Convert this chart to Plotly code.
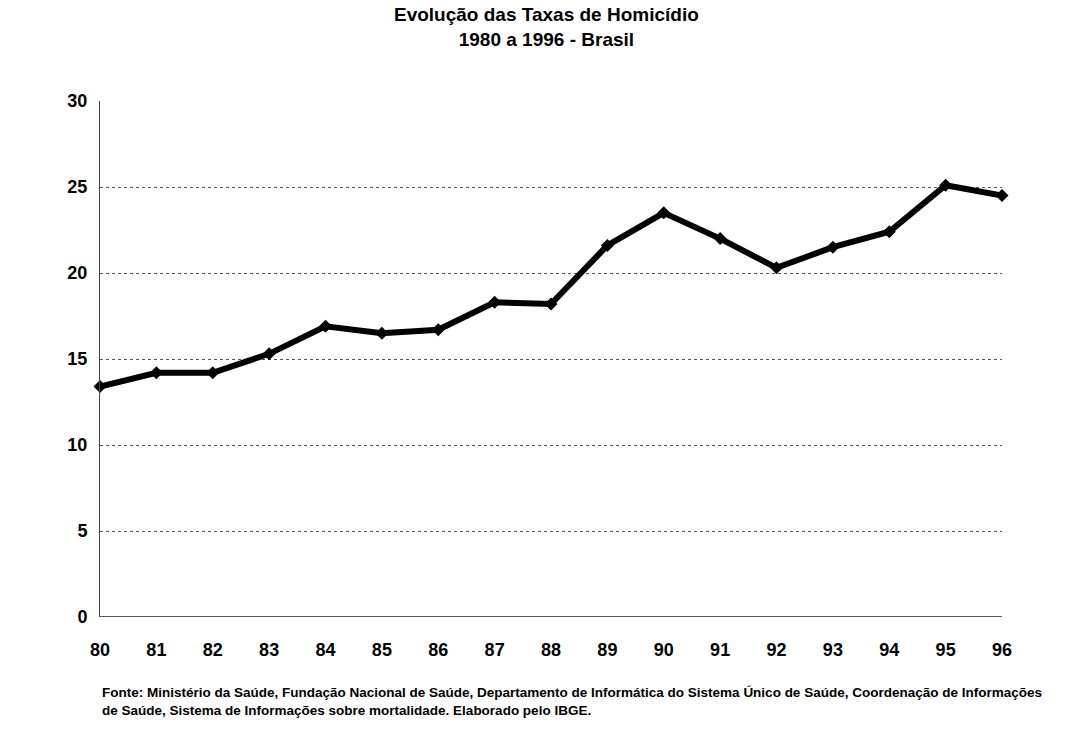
import plotly.graph_objects as go

anos = [80, 81, 82, 83, 84, 85, 86, 87, 88, 89, 90, 91, 92, 93, 94, 95, 96]
taxas = [13.4, 14.2, 14.2, 15.3, 16.9, 16.5, 16.7, 18.3, 18.2, 21.6, 23.5, 22.0, 20.3, 21.5, 22.4, 25.1, 24.5]
y_ticks = [0, 5, 10, 15, 20, 25, 30]

fig = go.Figure()
fig.add_trace(go.Scatter(
    x=anos, y=taxas, mode="lines+markers",
    line=dict(color="black", width=6),
    marker=dict(symbol="diamond", size=10, color="black"),
    showlegend=False, cliponaxis=False,
))

fig.update_layout(
    width=1066, height=733,
    margin=dict(l=100, r=64, t=101, b=116),
    paper_bgcolor="white", plot_bgcolor="white",
    font=dict(family="Liberation Sans, Arial", color="black"),
    xaxis=dict(
        range=[80, 96], tickvals=anos, ticktext=[f"<b>{a}</b>" for a in anos],
        showgrid=False, zeroline=False, showline=False, ticks="",
        tickfont=dict(size=18, family="Liberation Sans, Arial"),
        ticklabelstandoff=20,
    ),
    yaxis=dict(
        range=[0, 30], tickvals=y_ticks, ticktext=[f"<b>{v}</b>" for v in y_ticks],
        showgrid=True, gridcolor="#555", griddash="dot", gridwidth=1,
        zeroline=False, showline=True, linecolor="#444", linewidth=1,
        ticks="", tickfont=dict(size=18, family="Liberation Sans, Arial"),
        ticklabelstandoff=8,
    ),
)

fig.add_shape(type="line", xref="paper", yref="y", x0=0, x1=1, y0=0, y1=0,
              line=dict(color="#222", width=1.5))

fig.add_annotation(
    xref="paper", yref="paper", x=0.495, y=1.143, xanchor="center", yanchor="middle",
    align="center", showarrow=False,
    text="<b>Evolução das Taxas de Homicídio<br>1980 a 1996 - Brasil</b>",
    font=dict(size=19, family="Liberation Sans, Arial", color="black"),
)

fig.add_annotation(
    xref="paper", yref="paper", x=0, y=-0.128, xanchor="left", yanchor="top",
    align="left", showarrow=False,
    text="<b>Fonte: Ministério da Saúde, Fundação Nacional de Saúde, Departamento de Informática do Sistema Único de Saúde, Coordenação de Informações<br>de Saúde, Sistema de Informações sobre mortalidade. Elaborado pelo IBGE.</b>",
    font=dict(size=13.5, family="Liberation Sans, Arial", color="black"),
)

fig.write_html("out.html")
